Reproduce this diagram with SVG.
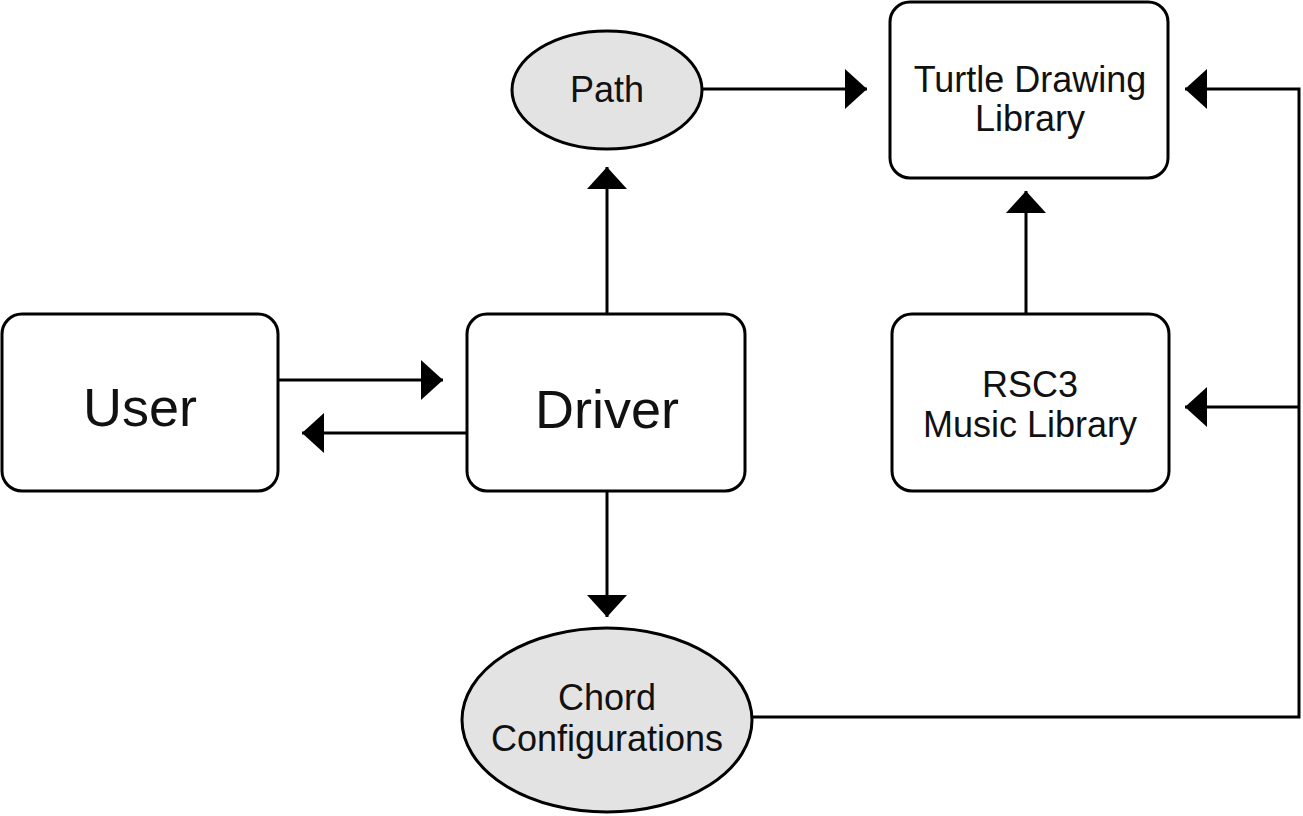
<svg xmlns="http://www.w3.org/2000/svg" width="1303" height="816" viewBox="0 0 1303 816">
<style>
.box{fill:#ffffff;stroke:#000;stroke-width:3}
.ell{fill:#e3e3e3;stroke:#000;stroke-width:3}
.lbl{font-family:"Liberation Sans",Arial,sans-serif;fill:#111;text-anchor:middle}
.big{font-size:54px}
.sm{font-size:36px}
.con{fill:none;stroke:#000;stroke-width:3}
</style>
<defs>
<marker id="ah" markerUnits="userSpaceOnUse" markerWidth="22" markerHeight="40" refX="22" refY="20" orient="auto" viewBox="0 0 22 40">
<path d="M0,0 L22,20 L0,40 Z" fill="#000"/>
</marker>
</defs>
<rect width="1303" height="816" fill="#fff"/>
<g id="connectors">
<path class="con" d="M278,380 H443" marker-end="url(#ah)"/>
<path class="con" d="M467,433 H302" marker-end="url(#ah)"/>
<path class="con" d="M607,314 V167" marker-end="url(#ah)"/>
<path class="con" d="M702,89 H867" marker-end="url(#ah)"/>
<path class="con" d="M607,491 V617" marker-end="url(#ah)"/>
<path class="con" d="M1026,314 V191" marker-end="url(#ah)"/>
<path class="con" d="M752,717 H1299 V89 H1185" marker-end="url(#ah)"/>
<path class="con" d="M1299,407 H1185" marker-end="url(#ah)"/>
</g>
<g id="user">
<rect class="box" x="2" y="314" width="276" height="177" rx="20"/>
<text class="lbl big" x="140" y="426">User</text>
</g>
<g id="driver">
<rect class="box" x="467" y="314" width="278" height="177" rx="20"/>
<text class="lbl big" x="607" y="428">Driver</text>
</g>
<g id="path">
<ellipse class="ell" cx="607" cy="90" rx="95" ry="59"/>
<text class="lbl sm" x="607" y="102">Path</text>
</g>
<g id="turtle">
<rect class="box" x="890" y="2" width="278" height="176" rx="20"/>
<text class="lbl sm" x="1030" y="92">Turtle Drawing</text>
<text class="lbl sm" x="1030" y="131">Library</text>
</g>
<g id="rsc3">
<rect class="box" x="892" y="314" width="277" height="177" rx="20"/>
<text class="lbl sm" x="1030" y="397">RSC3</text>
<text class="lbl sm" x="1030" y="437">Music Library</text>
</g>
<g id="chord">
<ellipse class="ell" cx="607" cy="720" rx="145" ry="92"/>
<text class="lbl sm" x="607" y="710">Chord</text>
<text class="lbl sm" x="607" y="751">Configurations</text>
</g>
</svg>
